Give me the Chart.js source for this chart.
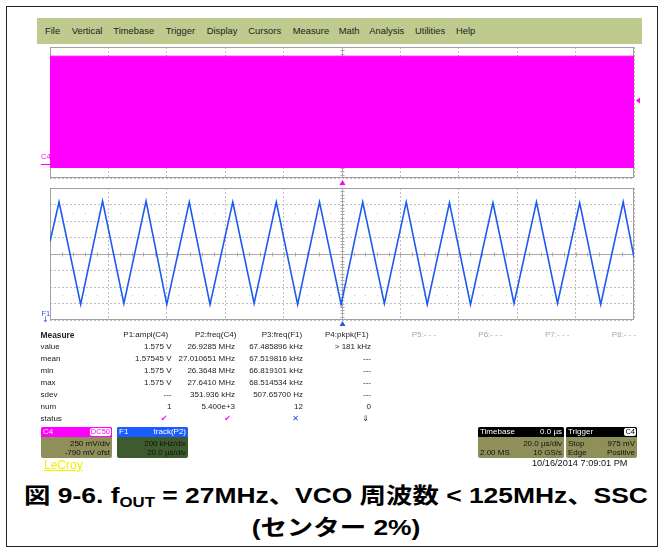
<!DOCTYPE html>
<html>
<head>
<meta charset="utf-8">
<script src="https://cdn.jsdelivr.net/npm/chart.js@4/dist/chart.umd.min.js"></script>
<style>
  html, body { margin: 0; padding: 0; background: #fff; }
  body { width: 663px; height: 552px; position: relative; overflow: hidden;
         font-family: "Liberation Sans", Arial, sans-serif; color: #1a1a1a; }
  .abs { position: absolute; white-space: nowrap; }
  #frame { position: absolute; left: 6px; top: 6px; width: 650px; height: 539px; border: 1px solid #222; }
  #menu { position: absolute; left: 37px; top: 18px; width: 605px; height: 26px; background: #bfca8e; }
  .mi { position: absolute; top: 0; line-height: 26px; font-size: 9.4px; color: #222; }
  canvas { position: absolute; }
  .tbl { font-size: 8px; line-height: 12px; color: #222; }
  .dim { color: #a8a8a8; }
  .box { position: absolute; height: 31px; border-radius: 2px; overflow: hidden; font-size: 8px; }
  .box .hd { position: absolute; left: 0; right: 0; top: 0; height: 10px; line-height: 10px; color: #fff; }
  .box .l { position: absolute; left: 2px; }
  .box .r { position: absolute; right: 2px; }
  .box .row { position: absolute; left: 0; right: 0; height: 9px; line-height: 9px; color: #111; }
  .tag { position: absolute; right: 1px; top: 1px; height: 8px; line-height: 8px; padding: 0 1px;
         background: #fff; border-radius: 2px; font-size: 7.5px; }
  #caption { position: absolute; left: 0; width: 672px; text-align: center; font-weight: bold;
             font-family: "Liberation Sans", "Noto Sans CJK JP", sans-serif; font-size: 22px; color: #000;
             transform: scaleX(1.2); transform-origin: 336px 0; }
  #caption sub { font-size: 14px; vertical-align: -4px; line-height: 0; }
</style>
</head>
<body>
<div id="frame"></div>
<div id="menu"></div>

<canvas id="c4" width="612" height="148" style="left:36px;top:40px;"></canvas>
<canvas id="f1" width="612" height="150" style="left:36px;top:180px;"></canvas>

<div class="abs" style="left:41px;top:152px;font-size:7.5px;color:#ff00ff;line-height:9px;">C4</div>
<div class="abs" style="left:41px;top:164px;width:9px;height:1px;background:#ff00ff;"></div>
<div class="abs" style="left:41.5px;top:309px;font-size:7.5px;color:#1e5af0;line-height:9px;">F1</div>
<div class="abs" style="left:42px;top:315px;font-size:8px;color:#1e5af0;line-height:9px;font-family:'DejaVu Sans';">&#8595;</div>

<div id="table"></div>

<div class="box" style="left:41px;top:427px;width:71px;background:#8f9059;">
  <div class="hd" style="background:#ff00ff;"><span class="l">C4</span><span class="tag" style="color:#ff00ff;">DC50</span></div>
  <div class="row" style="top:12px;"><span class="r">250 mV/div</span></div>
  <div class="row" style="top:21px;"><span class="r">-790 mV ofst</span></div>
</div>
<div class="box" style="left:117px;top:427px;width:71px;background:#3d5b2d;">
  <div class="hd" style="background:#1a5cff;"><span class="l">F1</span><span class="r">track(P2)</span></div>
  <div class="row" style="top:12px;"><span class="r">200 kHz/div</span></div>
  <div class="row" style="top:21px;"><span class="r">20.0 µs/div</span></div>
</div>
<div class="box" style="left:478px;top:427px;width:86px;background:#8f9059;">
  <div class="hd" style="background:#000;"><span class="l">Timebase</span><span class="r">0.0 µs</span></div>
  <div class="row" style="top:12px;"><span class="r">20.0 µs/div</span></div>
  <div class="row" style="top:21px;"><span class="l">2.00 MS</span><span class="r">10 GS/s</span></div>
</div>
<div class="box" style="left:566px;top:427px;width:71px;background:#8f9059;">
  <div class="hd" style="background:#000;"><span class="l">Trigger</span><span class="tag" style="color:#000;">C4</span></div>
  <div class="row" style="top:12px;"><span class="l">Stop</span><span class="r">975 mV</span></div>
  <div class="row" style="top:21px;"><span class="l">Edge</span><span class="r">Positive</span></div>
</div>

<div class="abs" style="left:44px;top:458px;font-size:12px;line-height:15px;color:#f4ef00;text-decoration:underline;">LeCroy</div>
<div class="abs" style="left:532px;top:457px;font-size:9.2px;line-height:12px;color:#111;">10/16/2014 7:09:01 PM</div>

<div id="caption" style="top:480px;line-height:32px;">図 9-6. f<sub>OUT</sub> = 27MHz、VCO 周波数 &lt; 125MHz、SSC<br>(センター 2%)</div>

<script>
// ---- menu bar ----
const menuItems = ['File', 'Vertical', 'Timebase', 'Trigger', 'Display', 'Cursors', 'Measure', 'Math', 'Analysis', 'Utilities', 'Help'];
const menuX = [8, 34.7, 76.3, 128.7, 169.7, 211.3, 255.7, 301.7, 332.3, 378, 419];

// ---- timebase / channel settings ----
const timePerDivUs = 20;          // 20.0 µs/div
const triggerTimeUs = 0;          // Timebase 0.0 µs
const c4VoltsPerDiv = 0.25;       // 250 mV/div
const c4CenterV = 0.79;           // -790 mV ofst
const c4TriggerV = 0.975;         // trigger level 975 mV
const f1MHzPerDiv = 0.2;          // 200 kHz/div
const f1CenterMHz = 27.0;

// ---- C4: 27 MHz clock, drawn as its min/max envelope over the record ----
const c4TimeUs = [-100, 100];
const c4HighV = [1.65, 1.65];
const c4LowV = [-0.05, -0.05];

// ---- F1: track of P2 freq(C4), triangular SSC profile (MHz) ----
const traceTimeUs = [-100, -96.9, -89.5, -82.0, -74.7, -67.1, -60.0, -52.3, -45.2, -37.4, -30.1,
  -22.5, -15.2, -7.7, -0.3, 7.1, 14.5, 22.0, 29.2, 36.8, 44.0, 51.7, 58.9, 66.6, 73.8, 81.4, 88.6, 96.3, 100];
const traceFreqMHz = [27.15, 27.63, 26.39, 27.64, 26.40, 27.64, 26.39, 27.63, 26.39, 27.63, 26.40,
  27.63, 26.39, 27.63, 26.39, 27.63, 26.40, 27.63, 26.39, 27.62, 26.39, 27.62, 26.40, 27.63, 26.40,
  27.62, 26.39, 27.63, 26.96];

// ---- measurement table ----
const measureHeaders = ['P1:ampl(C4)', 'P2:freq(C4)', 'P3:freq(F1)', 'P4:pkpk(F1)', 'P5:- - -', 'P6:- - -', 'P7:- - -', 'P8:- - -'];
const measureRowLabels = ['value', 'mean', 'min', 'max', 'sdev', 'num', 'status'];
const p1Values = ['1.575 V', '1.57545 V', '1.575 V', '1.575 V', '---', '1'];
const p2Values = ['26.9285 MHz', '27.010651 MHz', '26.3648 MHz', '27.6410 MHz', '351.936 kHz', '5.400e+3'];
const p3Values = ['67.485896 kHz', '67.519816 kHz', '66.819101 kHz', '68.514534 kHz', '507.65700 Hz', '12'];
const p4Values = ['> 181 kHz', '---', '---', '---', '---', '0'];
const statusMarks = ['✔', '✔', '✕', '⇓'];
const statusColors = ['#ff00ff', '#ff00ff', '#2040e0', '#222'];

// build menu
const menu = document.getElementById('menu');
menuItems.forEach((t, i) => {
  const s = document.createElement('span');
  s.className = 'mi'; s.textContent = t; s.style.left = menuX[i] + 'px';
  menu.appendChild(s);
});

// build table
const table = document.getElementById('table');
const rowY = i => 328.5 + 12.07 * i;
const headerX = [123.3, 195, 261.7, 325, 411.7, 478.3, 545, 611.7];
const colRight = [171.5, 235, 303, 371];
function put(text, opts) {
  const s = document.createElement('div');
  s.className = 'abs tbl' + (opts.dim ? ' dim' : '');
  s.textContent = text;
  s.style.top = opts.top + 'px';
  if (opts.left !== undefined) s.style.left = opts.left + 'px';
  if (opts.right !== undefined) s.style.right = (663 - opts.right) + 'px';
  if (opts.bold) { s.style.fontWeight = 'bold'; s.style.fontSize = '8.4px'; }
  if (opts.color) s.style.color = opts.color;
  table.appendChild(s);
  return s;
}
put('Measure', {left: 40.5, top: rowY(0), bold: true});
measureHeaders.forEach((h, i) => put(h, {left: headerX[i], top: rowY(0), dim: i >= 4}));
measureRowLabels.forEach((l, i) => put(l, {left: 40.5, top: rowY(i + 1)}));
[p1Values, p2Values, p3Values, p4Values].forEach((col, c) => {
  col.forEach((v, r) => put(v, {right: colRight[c], top: rowY(r + 1)}));
});
statusMarks.forEach((m, c) => {
  const s = put(m, {right: colRight[c] - (c === 3 ? 2 : 4), top: rowY(7), color: statusColors[c]});
  s.style.fontFamily = "'DejaVu Sans', sans-serif";
  s.style.fontSize = '8px';
});

// ---- scope graticule + markers ----
const scopeGrid = {
  id: 'scopeGrid',
  beforeDatasetsDraw(chart, args, o) {
    const {ctx, chartArea: a, scales: {x, y}} = chart;
    const cx = Math.round(x.getPixelForValue(o.xCenter)) + 0.5;
    const cy = Math.round(y.getPixelForValue(o.yCenter)) + 0.5;
    ctx.save();
    ctx.lineWidth = 1;
    ctx.strokeStyle = '#a9a9a9';
    ctx.beginPath();
    ctx.moveTo(a.left, cy); ctx.lineTo(a.right, cy);
    ctx.moveTo(cx, a.top); ctx.lineTo(cx, a.bottom);
    const xStep = o.xDiv / 5, yStep = o.yDiv / 5;
    for (let k = 1; k < 50; k++) {
      const px = Math.round(x.getPixelForValue(x.min + k * xStep)) + 0.5;
      ctx.moveTo(px, cy - 2); ctx.lineTo(px, cy + 2);
    }
    for (let k = 1; k < 40; k++) {
      const py = Math.round(y.getPixelForValue(y.min + k * yStep)) + 0.5;
      ctx.moveTo(cx - 2, py); ctx.lineTo(cx + 2, py);
    }
    ctx.stroke();
    // faint sub-division dots on the half-division rows
    ctx.fillStyle = '#c4c4c4';
    [o.yCenter + 2.5 * o.yDiv, o.yCenter - 2.5 * o.yDiv].forEach(v => {
      const py = Math.round(y.getPixelForValue(v));
      for (let k = 1; k < 50; k++) {
        if (k % 5 === 0) continue;
        const px = Math.round(x.getPixelForValue(x.min + k * xStep));
        ctx.fillRect(px, py, 1, 1);
      }
    });
    ctx.strokeStyle = '#a0a0a0';
    ctx.strokeRect(Math.round(a.left) + 0.5, Math.round(a.top) + 0.5,
                   Math.round(a.right - a.left) - 1, Math.round(a.bottom - a.top) - 1);
    ctx.restore();
  },
  afterDraw(chart, args, o) {
    const {ctx, chartArea: a, scales: {x, y}} = chart;
    const tx = Math.round(x.getPixelForValue(triggerTimeUs));
    ctx.save();
    ctx.fillStyle = o.markColor;
    ctx.beginPath();
    ctx.moveTo(tx + 0.5, a.bottom + o.markGap);
    ctx.lineTo(tx + 3.5, a.bottom + o.markGap + 5);
    ctx.lineTo(tx - 2.5, a.bottom + o.markGap + 5);
    ctx.closePath(); ctx.fill();
    if (o.levelValue !== undefined) {
      const ly = y.getPixelForValue(o.levelValue);
      ctx.beginPath();
      ctx.moveTo(a.right + 2, ly);
      ctx.lineTo(a.right + 6, ly - 3);
      ctx.lineTo(a.right + 6, ly + 3);
      ctx.closePath(); ctx.fill();
    }
    ctx.restore();
  }
};

function scopeOptions(yMin, yMax, yDiv, padding, extra) {
  const divTicks = (min, step, n) => Array.from({length: n + 1}, (_, i) => ({value: min + i * step}));
  return {
    responsive: false,
    animation: false,
    devicePixelRatio: 1,
    layout: {padding},
    plugins: {legend: {display: false}, tooltip: {enabled: false}, scopeGrid: extra},
    elements: {point: {radius: 0}},
    scales: {
      x: {
        type: 'linear', min: -5 * timePerDivUs, max: 5 * timePerDivUs,
        afterBuildTicks: s => { s.ticks = divTicks(s.min, timePerDivUs, 10); },
        ticks: {display: false},
        grid: {color: '#bdbdbd', lineWidth: 1, drawTicks: false},
        border: {display: false, dash: [2, 2]}
      },
      y: {
        type: 'linear', min: yMin, max: yMax,
        afterBuildTicks: s => { s.ticks = divTicks(s.min, yDiv, 8); },
        ticks: {display: false},
        grid: {color: '#bdbdbd', lineWidth: 1, drawTicks: false},
        border: {display: false, dash: [2, 2]}
      }
    }
  };
}

new Chart(document.getElementById('c4'), {
  type: 'line',
  data: {
    datasets: [
      {data: c4TimeUs.map((t, i) => ({x: t, y: c4HighV[i]})), borderColor: '#ff00ff', borderWidth: 1,
       backgroundColor: '#ff00ff', fill: '+1'},
      {data: c4TimeUs.map((t, i) => ({x: t, y: c4LowV[i]})), borderColor: '#ff00ff', borderWidth: 1, fill: false}
    ]
  },
  options: scopeOptions(c4CenterV - 4 * c4VoltsPerDiv, c4CenterV + 4 * c4VoltsPerDiv, c4VoltsPerDiv,
    {left: 14, right: 14, top: 7, bottom: 10},
    {xCenter: triggerTimeUs, yCenter: c4CenterV, xDiv: timePerDivUs, yDiv: c4VoltsPerDiv,
     markColor: '#ff00ff', markGap: 2, levelValue: c4TriggerV}),
  plugins: [scopeGrid]
});

new Chart(document.getElementById('f1'), {
  type: 'line',
  data: {
    datasets: [
      {data: traceTimeUs.map((t, i) => ({x: t, y: traceFreqMHz[i]})), borderColor: '#1e5af0',
       borderWidth: 1.6, fill: false, tension: 0}
    ]
  },
  options: scopeOptions(f1CenterMHz - 4 * f1MHzPerDiv, f1CenterMHz + 4 * f1MHzPerDiv, f1MHzPerDiv,
    {left: 14, right: 14, top: 8, bottom: 10},
    {xCenter: triggerTimeUs, yCenter: f1CenterMHz, xDiv: timePerDivUs, yDiv: f1MHzPerDiv,
     markColor: '#1e5af0', markGap: 1}),
  plugins: [scopeGrid]
});
</script>
</body>
</html>
